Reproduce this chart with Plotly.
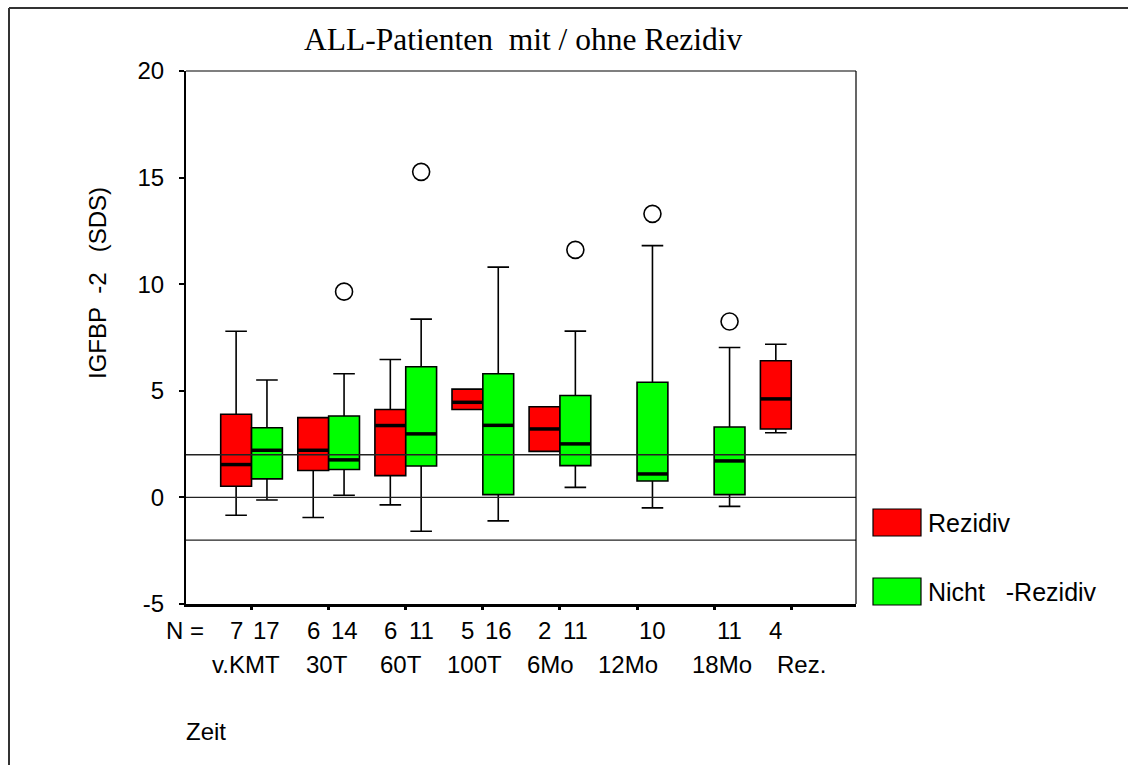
import plotly.graph_objects as go

# ---------------- data ----------------
categories = ["v.KMT", "30T", "60T", "100T", "6Mo", "12Mo", "18Mo", "Rez."]

red_n      = [7, 6, 6, 5, 2, None, None, 4]
red_lower  = [-0.84, -0.94, -0.35, 4.12, 2.16, None, None, 3.03]
red_q1     = [0.52, 1.26, 1.02, 4.12, 2.16, None, None, 3.21]
red_median = [1.54, 2.21, 3.37, 4.46, 3.21, None, None, 4.62]
red_q3     = [3.90, 3.74, 4.12, 5.08, 4.25, None, None, 6.41]
red_upper  = [7.79, 3.74, 6.47, 5.08, 4.25, None, None, 7.18]

green_n      = [17, 14, 11, 16, 11, 10, 11, None]
green_lower  = [-0.12, 0.10, -1.59, -1.10, 0.47, -0.49, -0.42, None]
green_q1     = [0.87, 1.31, 1.47, 0.13, 1.49, 0.77, 0.13, None]
green_median = [2.21, 1.76, 2.98, 3.38, 2.51, 1.10, 1.71, None]
green_q3     = [3.27, 3.82, 6.13, 5.80, 4.78, 5.40, 3.30, None]
green_upper  = [5.51, 5.80, 8.36, 10.80, 7.80, 11.81, 7.03, None]

green_outlier_cat = ["30T", "60T", "6Mo", "12Mo", "18Mo"]
green_outlier_val = [9.65, 15.27, 11.61, 13.30, 8.25]

ref_lines = [2, 0, -2]
y_ticks = [-5, 0, 5, 10, 15, 20]
y_tick_text = ["-5", "0", "5", "10", "15", "20"]

# ---------------- layout geometry ----------------
W, H = 1128, 765
L, R, T, B = 186, 856, 71, 604
PW, PH = R - L, B - T
BOX_W = 0.4
OFF = 0.2
XR = [-0.85, 7.84]
px_per_unit = PW / (XR[1] - XR[0])

def px(xpx):
    return (xpx - L) / PW

def py(ypx):
    return (B - ypx) / PH

FONT = "Liberation Sans, Arial, sans-serif"
SERIF = "Liberation Serif, Times New Roman, serif"
RED = "#FF0000"
GREEN = "#00FF00"
TXT = 24

fig = go.Figure()

def add_group(offset, n, lo, q1, med, q3, up, color, name):
    xs, a, b, c, d, e = [], [], [], [], [], []
    for i in range(len(categories)):
        if n[i] is None:
            continue
        xs.append(i + offset)
        a.append(lo[i]); b.append(q1[i]); c.append(med[i]); d.append(q3[i]); e.append(up[i])
    fig.add_trace(go.Box(
        x=xs, lowerfence=a, q1=b, median=c, q3=d, upperfence=e,
        width=BOX_W, fillcolor=color, name=name,
        line=dict(color="black", width=1.6), whiskerwidth=0.7,
        boxpoints=False, showlegend=False, hoverinfo="skip"))
    mx, my = [], []
    for x, m in zip(xs, c):
        mx += [x - BOX_W / 2, x + BOX_W / 2, None]
        my += [m, m, None]
    fig.add_trace(go.Scatter(x=mx, y=my, mode="lines",
                             line=dict(color="black", width=3.5),
                             showlegend=False, hoverinfo="skip"))
    return xs

add_group(-OFF, red_n, red_lower, red_q1, red_median, red_q3, red_upper, RED, "Rezidiv")
add_group(OFF, green_n, green_lower, green_q1, green_median, green_q3, green_upper, GREEN, "Nicht -Rezidiv")

# outliers
fig.add_trace(go.Scatter(
    x=[categories.index(c) + OFF for c in green_outlier_cat], y=green_outlier_val,
    mode="markers", marker=dict(symbol="circle-open", size=17, color="black",
                                line=dict(width=1.6, color="black")),
    showlegend=False, hoverinfo="skip"))

shapes = []
for v in ref_lines:
    shapes.append(dict(type="line", xref="paper", yref="y", x0=0, x1=1, y0=v, y1=v,
                       line=dict(color="#222222", width=1.3), layer="above"))
shapes.append(dict(type="line", xref="paper", yref="paper", x0=0, x1=1, y0=1, y1=1,
                   line=dict(color="black", width=1.2)))
shapes.append(dict(type="line", xref="paper", yref="paper", x0=1, x1=1, y0=0, y1=1,
                   line=dict(color="black", width=1.2)))
shapes.append(dict(type="line", xref="paper", yref="paper", x0=px(9), x1=px(1130), y0=py(8), y1=py(8),
                   line=dict(color="#333333", width=2)))
shapes.append(dict(type="line", xref="paper", yref="paper", x0=px(9), x1=px(9), y0=py(8), y1=py(770),
                   line=dict(color="#333333", width=2)))
shapes.append(dict(type="rect", xref="paper", yref="paper", x0=px(873), x1=px(921), y0=py(536), y1=py(509),
                   fillcolor=RED, line=dict(color="black", width=1.2)))
shapes.append(dict(type="rect", xref="paper", yref="paper", x0=px(873), x1=px(921), y0=py(605), y1=py(578),
                   fillcolor=GREEN, line=dict(color="black", width=1.2)))

ann = []
NB = "\u00a0"
ann.append(dict(text="ALL-Patienten" + NB * 2 + "mit / ohne Rezidiv", xref="paper", yref="paper",
                x=px(302), y=py(40), xanchor="left", yanchor="middle", showarrow=False,
                font=dict(family=SERIF, size=31.5, color="black")))
ann.append(dict(text="IGFBP" + NB * 2 + "-2" + NB * 3 + "(SDS)", xref="paper", yref="paper",
                x=px(97), y=py(283), xanchor="center", yanchor="middle", textangle=-90,
                showarrow=False, font=dict(family=FONT, size=TXT, color="black")))
ann.append(dict(text="N =", xref="paper", yref="paper", x=px(164), y=py(630),
                xanchor="left", yanchor="middle", showarrow=False,
                font=dict(family=FONT, size=TXT, color="black")))
for i in range(len(categories)):
    for n, off in ((red_n[i], -OFF), (green_n[i], OFF)):
        if n is None:
            continue
        ann.append(dict(text=str(n), xref="x", yref="paper", x=i + off, y=py(630),
                        xanchor="center", yanchor="middle", showarrow=False,
                        font=dict(family=FONT, size=TXT, color="black")))
label_shift_px = [-6, -2, -5, -8, -9, -9, 8, 10]
for i, cat in enumerate(categories):
    ann.append(dict(text=cat, xref="x", yref="paper", x=i + label_shift_px[i] / px_per_unit,
                    y=py(664), xanchor="center", yanchor="middle", showarrow=False,
                    font=dict(family=FONT, size=TXT, color="black")))
ann.append(dict(text="Zeit", xref="paper", yref="paper", x=px(184), y=py(731),
                xanchor="left", yanchor="middle", showarrow=False,
                font=dict(family=FONT, size=TXT, color="black")))
ann.append(dict(text="Rezidiv", xref="paper", yref="paper", x=px(926), y=py(523),
                xanchor="left", yanchor="middle", showarrow=False,
                font=dict(family=FONT, size=25, color="black")))
ann.append(dict(text="Nicht" + NB * 3 + "-Rezidiv", xref="paper", yref="paper", x=px(926), y=py(592),
                xanchor="left", yanchor="middle", showarrow=False,
                font=dict(family=FONT, size=25, color="black")))

fig.update_layout(
    width=W, height=H, autosize=False,
    margin=dict(l=L, r=W - R, t=T, b=H - B, pad=0),
    paper_bgcolor="white", plot_bgcolor="white",
    shapes=shapes, annotations=ann, showlegend=False,
    xaxis=dict(range=XR, tickvals=list(range(len(categories))), showticklabels=False,
               ticks="outside", ticklen=3, tickwidth=3, tickcolor="black",
               showline=True, linecolor="black", linewidth=2.5,
               showgrid=False, zeroline=False, fixedrange=True),
    yaxis=dict(range=[-5, 20], tickvals=y_ticks, ticktext=y_tick_text,
               ticks="outside", ticklen=5, tickwidth=2,
               tickcolor="black", showline=True, linecolor="black", linewidth=2,
               showgrid=False, zeroline=False, ticklabelstandoff=10,
               tickfont=dict(family=FONT, size=TXT, color="black"), fixedrange=True),
)

fig.write_html("out.html")
